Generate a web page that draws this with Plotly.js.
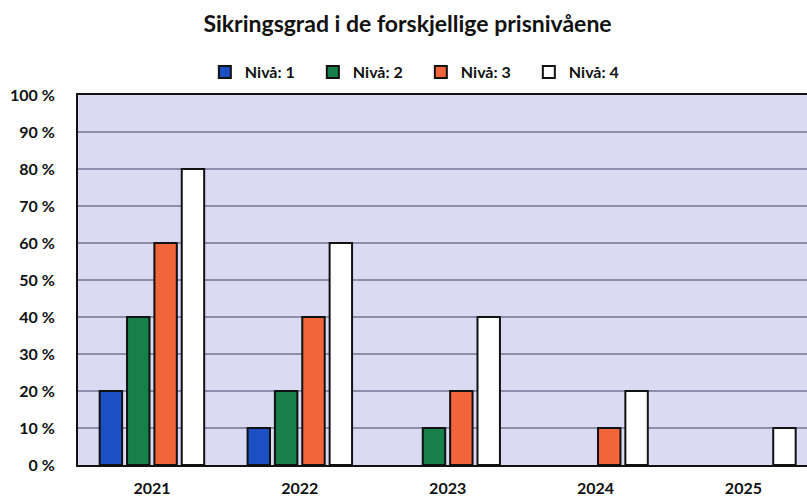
<!DOCTYPE html>
<html>
<head>
<meta charset="utf-8">
<script src="https://cdn.plot.ly/plotly-3.0.1.min.js"></script>
<style>html,body{margin:0;padding:0;background:#fff;}</style>
</head>
<body>
<div id="chart" style="width:807px;height:499px;"></div>
<script>
const years = ["2021", "2022", "2023", "2024", "2025"];
const level1 = [20, 10, 0, 0, 0];
const level2 = [40, 20, 10, 0, 0];
const level3 = [60, 40, 20, 10, 0];
const level4 = [80, 60, 40, 20, 10];
const seriesNames = ["Nivå: 1", "Nivå: 2", "Nivå: 3", "Nivå: 4"];
const yTickVals = [0, 10, 20, 30, 40, 50, 60, 70, 80, 90, 100];
const yTickText = ["0 %", "10 %", "20 %", "30 %", "40 %", "50 %", "60 %", "70 %", "80 %", "90 %", "100 %"];

const colors = ["#1b4fc2", "#17804a", "#f2643a", "#ffffff"];
const series = [level1, level2, level3, level4];
const fontFam = "Lato, 'Open Sans', sans-serif";

const traces = series.map((vals, i) => ({
  type: "bar",
  name: seriesNames[i],
  x: years,
  y: vals,
  marker: {
    color: colors[i],
    line: { color: "#111", width: vals.map(v => (v > 0 ? 2 : 0)) }
  },
  hoverinfo: "x+y+name"
}));

const layout = {
  width: 807,
  height: 499,
  margin: { l: 78, r: 0, t: 95, b: 34, pad: 0, autoexpand: false },
  paper_bgcolor: "#ffffff",
  plot_bgcolor: "#dadaf2",
  barmode: "group",
  bargap: 0.26,
  bargroupgap: 0.18,
  font: { family: fontFam, color: "#111", size: 15, weight: "bold" },
  title: {
    text: "Sikringsgrad i de forskjellige prisnivåene",
    font: { family: fontFam, size: 23, weight: "bold", color: "#111" },
    x: 0.505, xanchor: "center", xref: "container",
    y: 0.952, yanchor: "middle", yref: "container"
  },
  showlegend: true,
  legend: {
    orientation: "h",
    x: 0.174, xanchor: "left",
    y: 1.062, yanchor: "middle",
    font: { family: fontFam, size: 16, weight: "bold", color: "#111" },
    entrywidth: 63,
    entrywidthmode: "pixels",
    itemwidth: 30,
    bgcolor: "rgba(0,0,0,0)",
    traceorder: "normal"
  },
  xaxis: {
    type: "category",
    range: [-0.5, 4.43],
    showline: true, linecolor: "#111", linewidth: 2, mirror: true,
    showgrid: false, zeroline: false,
    ticks: "outside", ticklen: 0, ticklabelstandoff: 8,
    tickfont: { family: fontFam, size: 16, weight: "bold", color: "#111" }
  },
  yaxis: {
    range: [0, 100],
    tickvals: yTickVals,
    ticktext: yTickText,
    showline: true, linecolor: "#111", linewidth: 2,
    showgrid: true, gridcolor: "#8e8eac", gridwidth: 1.5,
    zeroline: false,
    ticks: "outside", ticklen: 0, ticklabelstandoff: 18,
    tickfont: { family: fontFam, size: 16, weight: "bold", color: "#111" }
  }
};

Plotly.newPlot("chart", traces, layout, { displayModeBar: false, staticPlot: true });
</script>
</body>
</html>
